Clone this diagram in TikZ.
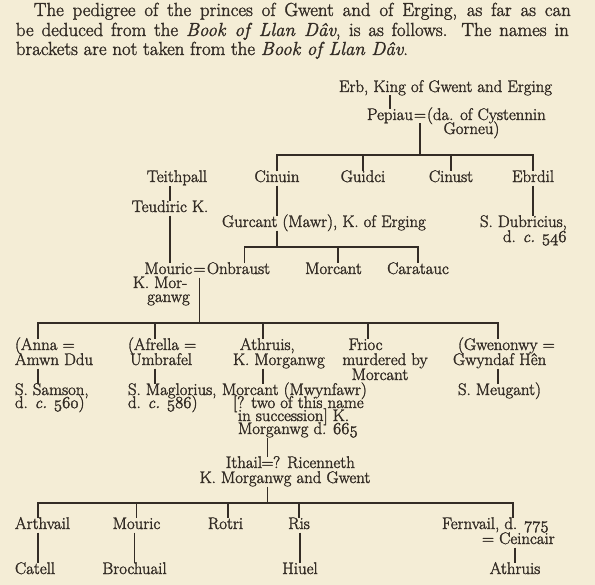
\RequirePackage{fix-cm}
\documentclass[tikz,border=0pt]{standalone}
\definecolor{bg}{HTML}{F4EDD6}
\definecolor{ink}{HTML}{332C25}
\newcommand{\heavy}{\special{pdf:literal direct 2 Tr 0.3 w}}
\newcommand{\dfont}{\fontsize{16.8bp}{18bp}\selectfont\heavy}
\newcommand{\pfont}{\fontsize{18.9bp}{21bp}\selectfont\heavy}
\newcommand{\os}[1]{{\usefont{OML}{cmm}{m}{it}\heavy #1}}
\begin{document}
\begin{tikzpicture}[x=1bp,y=-1bp, line width=1.7bp, draw=ink,
  t/.style={inner sep=0pt, outer sep=0pt, text height=10bp, text depth=2.5bp, anchor=base, font=\dfont, text=ink},
  tl/.style={t, anchor=base west},
  tr/.style={t, anchor=base east},
  p/.style={inner sep=0pt, anchor=base west, font=\pfont, text=ink},
  c/.style={shorten <=1bp, shorten >=1bp},
  cs/.style={shorten <=1bp},
  ce/.style={shorten >=1bp}]
\fill[bg] (0,0) rectangle (595,585);
\useasboundingbox (0,0) rectangle (595,585);

% paragraph
\node[p] (par1) at (33,16) {\hbox to 537bp{The pedigree of the princes of Gwent and of Erging, as far as can}};
\node[p] (par2) at (15,36) {\hbox to 553bp{be deduced from the \textit{Book of Llan Dâv}, is as follows. The names in}};
\node[p] (par3) at (15,55) {brackets are not taken from the \textit{Book of Llan Dâv}.};

% top
\node[t] (erb) at (445.5,92) {Erb, King of Gwent and Erging};
\node[tl] (pepiau) at (367,120) {Pepiau};
\node[t] (eq1) at (420,120) {=};
\node[tl] (wife1) at (427,120) {(da. of Cystennin};
\node[t] (wife1b) at (471.5,134) {Gorneu)};

% row 1
\node[t] (teith) at (177,182) {Teithpall};
\node[t] (cinuin) at (277,182) {Cinuin};
\node[t] (guidci) at (363,182) {Guidci};
\node[t] (cinust) at (451,182) {Cinust};
\node[t] (ebrdil) at (533,182) {Ebrdil};

\node[t] (teud) at (170,212) {Teudiric K.};
\node[tl] (gurcant) at (222,227) {Gurcant (Mawr), K. of Erging};
\node[tl] (dubr1) at (480,227) {S. Dubricius,};
\node[tl] (dubr2) at (503,242) {d. \textit{c.} \os{546}};

% row 2
\node[tr] (mouric) at (192,274) {Mouric};
\node[t] (eq2) at (199.5,274) {=};
\node[tl] (onbraust) at (207,274) {Onbraust};
\node[t] (morcant1) at (333.5,274) {Morcant};
\node[t] (caratauc) at (418,274) {Caratauc};
\node[t] (kmor1) at (160,288) {K. Mor-};
\node[t] (kmor2) at (168.5,302) {ganwg};

% row 3
\node[tl] (anna1) at (15,350) {(Anna =};
\node[tl] (anna2) at (15,365) {Amwn Ddu};
\node[tl] (anna3) at (15,395) {S. Samson,};
\node[tl] (anna4) at (15,408) {d. \textit{c.} \os{560})};

\node[tl] (afr1) at (128,350) {(Afrella =};
\node[tl] (afr2) at (130,365) {Umbrafel};
\node[tl] (afr3) at (128,395) {S. Maglorius,};
\node[tl] (afr4) at (128,408) {d. \textit{c.} \os{586})};

\node[tl] (ath1) at (240,350) {Athruis,};
\node[tl] (ath2) at (233,365) {K. Morganwg};
\node[tl] (mwyn1) at (222,395) {Morcant (Mwynfawr)};
\node[tl] (mwyn2) at (233,408) {[? two of this name};
\node[tl] (mwyn3) at (238,421) {in succession] K.};
\node[tl] (mwyn4) at (238,434) {Morganwg d. \os{665}};

\node[t] (frioc1) at (365.5,350) {Frioc};
\node[t] (frioc2) at (385,365) {murdered by};
\node[t] (frioc3) at (380,380) {Morcant};

\node[tl] (gwen1) at (458,350) {(Gwenonwy =};
\node[tl] (gwen2) at (453,365) {Gwyndaf Hên};
\node[tl] (meug) at (458,395) {S. Meugant)};

% Ithail
\node[tr] (ithail) at (262,468) {Ithail};
\node[t] (eq3) at (267.5,468) {=};
\node[tl] (ricen) at (273,468) {? Ricenneth};
\node[t] (ith2) at (285,483) {K. Morganwg and Gwent};

% row 4
\node[tl] (arth) at (15,529) {Arthvail};
\node[tl] (catell) at (15,574) {Catell};
\node[t] (mouric2) at (136.5,529) {Mouric};
\node[t] (broch) at (134.5,574) {Brochuail};
\node[t] (rotri) at (225.5,529) {Rotri};
\node[t] (ris) at (299,529) {Ris};
\node[t] (hiuel) at (300,574) {Hiuel};
\node[tl] (fern1) at (442,529) {Fernvail, d. \os{775}};
\node[tl] (fern2) at (482,544) {= Ceincair};
\node[t] (athr2) at (515,574) {Athruis};

% helper coordinates
\coordinate (b1) at (0,155);
\coordinate (b2) at (0,247);
\coordinate (b3) at (0,323);
\coordinate (b4) at (0,503);
\coordinate (xa) at (38,0);
\coordinate (xb) at (155,0);
\coordinate (xc) at (263,0);
\coordinate (xd) at (368,0);
\coordinate (xe) at (498,0);
\coordinate (xf) at (228,0);
\coordinate (xg) at (513,0);

% connectors
\draw[c] (pepiau.north) -- (pepiau.north |- erb.south);
\draw[cs] (eq1.south) -- (eq1.south |- b1);
\draw[c] (cinuin.north) -- (cinuin.north |- b1) -| (ebrdil.north);
\draw[ce] (guidci.north |- b1) -- (guidci.north);
\draw[ce] (cinust.north |- b1) -- (cinust.north);

\draw[c] (teud.north) -- (teud.north |- teith.south);
\draw[c] (teud.south) -- (teud.south |- mouric.north);
\draw[c] (cinuin.south) -- (cinuin.south |- gurcant.north);
\draw[c] (ebrdil.south) -- (ebrdil.south |- dubr1.north);

\draw[cs] (cinuin.south |- gurcant.south) -- (cinuin.south |- b2);
\draw[c] ([xshift=6bp]onbraust.north) -- ([xshift=6bp]onbraust.north |- b2) -| (caratauc.north);
\draw[ce] ([xshift=4.5bp]morcant1.north |- b2) -- ([xshift=4.5bp]morcant1.north);

\draw[cs] (eq2.south) -- (eq2.south |- b3);
\draw[c] (xa |- anna1.north) -- (xa |- b3) -| (xe |- gwen1.north);
\draw[ce] (xb |- b3) -- (xb |- afr1.north);
\draw[ce] (xc |- b3) -- (xc |- ath1.north);
\draw[ce] (xd |- b3) -- (xd |- frioc1.north);

\draw[c] (xa |- anna2.south) -- (xa |- anna3.north);
\draw[c] (xb |- afr2.south) -- (xb |- afr3.north);
\draw[c] (xc |- ath2.south) -- (xc |- mwyn1.north);
\draw[c] (xe |- gwen2.south) -- (xe |- meug.north);

\draw[c] (eq3.north |- mwyn4.south) -- (eq3.north);
\draw[cs] (eq3.south |- ith2.south) -- (eq3.south |- b4);
\draw[c] (xa |- arth.north) -- (xa |- b4) -| (xg |- fern1.north);
\draw[ce] (mouric2.north |- b4) -- (mouric2.north);
\draw[ce] (xf |- b4) -- (xf |- rotri.north);
\draw[ce] (ris.north |- b4) -- (ris.north);

\draw[c] (xa |- arth.south) -- (xa |- catell.north);
\draw[c] (broch.north |- mouric2.south) -- (broch.north);
\draw[c] (hiuel.north |- ris.south) -- (hiuel.north);
\draw[c] (athr2.north |- fern2.south) -- (athr2.north);
\end{tikzpicture}
\end{document}
